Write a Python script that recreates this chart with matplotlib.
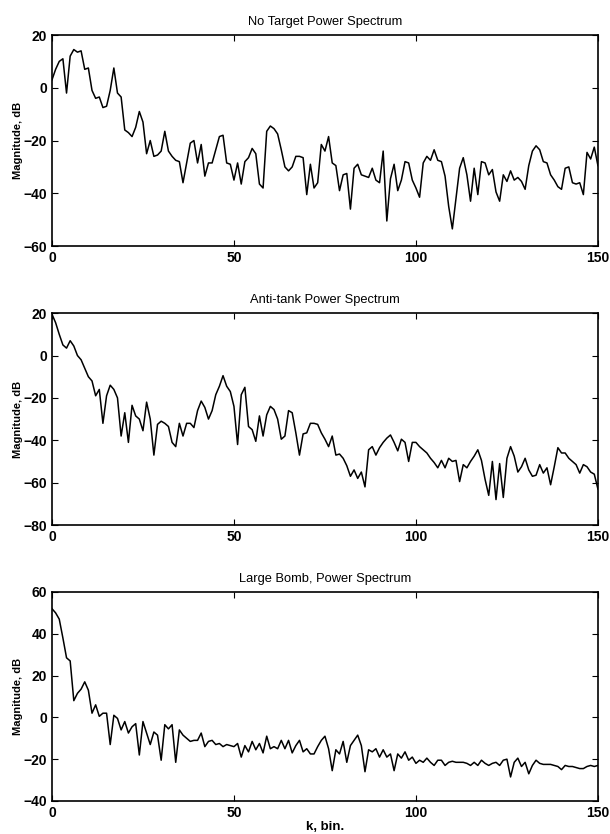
import numpy as np
import matplotlib
matplotlib.use("Agg")
import matplotlib.pyplot as plt

plt.rcParams['font.family'] = ['Liberation Sans', 'DejaVu Sans']

# spectrum values, bins 0..150
no_target = [3, 7, 10, 11, -2, 12, 14.5, 13.5, 14, 7,
             7.5, -1, -4, -3.5, -7.5, -7, -1, 7.5, -2, -3.5,
             -16, -17, -18.5, -15, -9, -13, -25, -20, -26, -25.5,
             -24, -16.5, -24, -26, -27.5, -28, -36, -28.5, -21, -20,
             -28.5, -21.5, -33.5, -28.5, -28.5, -23.5, -18.5, -18, -28.5, -29,
             -35, -28.5, -36.5, -28, -26.5, -23, -25, -36.5, -38, -16.5,
             -14.5, -15.5, -17.5, -23.5, -30, -31.5, -30, -26, -26, -26.5,
             -40.5, -29, -38, -36, -21.5, -24, -18.5, -28.5, -29.5, -39,
             -33, -32.5, -46, -30.5, -29, -33, -33.5, -34, -30.5, -35,
             -36, -24, -50.5, -34.5, -29, -39, -35, -28, -28.5, -35,
             -38, -41.5, -28.5, -26, -27.5, -23.5, -27.5, -28, -33.5, -45,
             -53.5, -42, -30.5, -26.5, -33, -43, -30.5, -40.5, -28, -28.5,
             -33, -31, -39.5, -43, -33, -35.5, -31.5, -35, -34, -35.5,
             -38.5, -29.5, -24, -22, -23.5, -28, -28.5, -33, -35, -37.5,
             -38.5, -30.5, -30, -36, -36.5, -36, -40.5, -24.5, -27, -22.5,
             -29.5]

anti_tank = [19.5, 15.5, 10, 5, 3.5, 7, 4.5, 0, -2, -6,
             -10, -12, -19, -16, -32, -19, -14, -16, -20, -38,
             -27, -41, -23.5, -28.5, -30, -35.5, -22, -30, -47, -32.5,
             -31, -32, -33.5, -41, -43, -32, -38, -32, -32, -34,
             -26, -21.5, -24.5, -30, -26, -18.5, -14.5, -9.5, -14.5, -17,
             -24, -42, -18.5, -15, -33.5, -35, -40.5, -28.5, -38, -28,
             -24, -25.5, -30, -39.5, -38, -26, -27, -36.5, -47, -37,
             -36.5, -32, -32, -32.5, -36.5, -39.5, -43, -38, -47, -46.5,
             -48.5, -52, -57, -54, -58, -55, -62, -44.5, -43, -47,
             -43.5, -41, -39, -37.5, -41, -45, -39.5, -41, -50, -41,
             -41, -43, -44.5, -46, -48.5, -50.5, -53, -49.5, -53, -48.5,
             -50, -49.5, -59.5, -51.5, -53, -50, -47.5, -44.5, -49.5, -58.5,
             -66, -50, -68, -51, -67, -48.5, -43, -47.5, -55, -52.5,
             -48.5, -54, -57, -56.5, -51.5, -55.5, -53, -61, -52.5, -43.5,
             -46, -46, -48.5, -50, -51.5, -55.5, -51.5, -52.5, -55, -56,
             -63]

large_bomb = [52, 50, 47, 38, 28.5, 27, 8, 11.5, 13.5, 17,
              13, 2, 6, 0.5, 2, 2, -13, 1, -0.5, -6,
              -2, -7.5, -4.5, -3, -18, -2, -7.5, -13, -7, -8.5,
              -20.5, -3.5, -5.5, -3.5, -21.5, -6, -8.5, -10, -11.5, -11,
              -11, -7.5, -14, -11.5, -11, -13, -12.5, -14, -13, -13.5,
              -14, -12.5, -19, -13.5, -16.5, -11.5, -15.5, -12.5, -17, -9,
              -15, -14, -15, -11, -15, -11, -17, -13.5, -11, -16.5,
              -15, -17.5, -17.5, -14, -11, -9, -15, -25.5, -15.5, -17.5,
              -11.5, -21.5, -13.5, -11, -8.5, -13.5, -26, -15.5, -16.5, -15,
              -19, -15.5, -19, -17.5, -25.5, -17.5, -19.5, -16.5, -20.5, -19,
              -22, -20.5, -21.5, -19.5, -21.5, -23, -20.5, -20.5, -23, -21.5,
              -21, -21.5, -21.5, -21.5, -22, -23, -21.5, -23, -20.5, -22,
              -23, -22, -21.5, -23, -20.5, -20, -28.5, -21.5, -19.5, -23.5,
              -21.5, -27, -23, -20.5, -22, -22.5, -22.5, -22.5, -23, -23.5,
              -25, -23, -23.5, -23.5, -24, -24.5, -24.5, -23.5, -23, -23.5,
              -23]

titles = ['No Target Power Spectrum', 'Anti-tank Power Spectrum',
          'Large Bomb, Power Spectrum']
ylims = [(-60, 20), (-80, 20), (-40, 60)]
k = np.arange(151)

fig = plt.figure(figsize=(6.1, 8.34), dpi=100)
rects = [[0.0852, 0.705, 0.895, 0.253],
         [0.0852, 0.3705, 0.895, 0.254],
         [0.0852, 0.0396, 0.895, 0.2506]]

for rect, y, title, lim in zip(rects, [no_target, anti_tank, large_bomb], titles, ylims):
    ax = fig.add_axes(rect)
    ax.plot(k, y, color='black', lw=1.1)
    ax.set_xlim(0, 150)
    ax.set_ylim(*lim)
    ax.set_xticks([0, 50, 100, 150])
    ax.set_yticks(np.arange(lim[0], lim[1] + 1, 20))
    ax.tick_params(direction='in', top=True, right=True, length=4, labelsize=10)
    for lab in ax.get_xticklabels() + ax.get_yticklabels():
        lab.set_fontweight('bold')
    for s in ax.spines.values():
        s.set_linewidth(1.2)
    ax.set_title(title, fontsize=9.3, pad=7)
    ax.set_ylabel('Magnitude, dB', fontsize=8, fontweight='bold', labelpad=0)

ax.set_xlabel('k, bin.', fontsize=9.5, fontweight='bold', labelpad=1)

fig.savefig('out.png', dpi=100)
